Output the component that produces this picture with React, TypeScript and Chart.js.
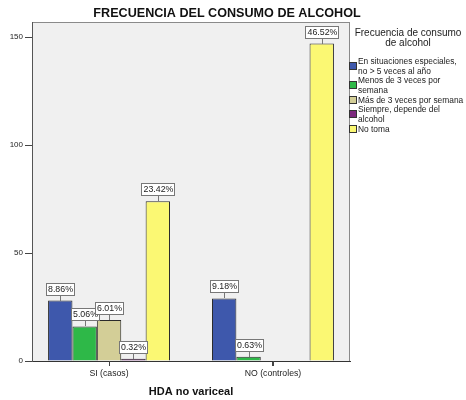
import React, { useEffect, useRef } from 'react';
import { Chart, registerables } from 'chart.js';

Chart.register(...registerables);

const chartTitle = 'FRECUENCIA DEL CONSUMO DE ALCOHOL';
const xAxisTitle = 'HDA no variceal';
const legendTitle = ['Frecuencia de consumo', 'de alcohol'];
const categories = ['SI (casos)', 'NO (controles)'];
const seriesNames = [
  ['En situaciones especiales,', 'no > 5 veces al año'],
  ['Menos de 3 veces por', 'semana'],
  ['Más de 3 veces por semana'],
  ['Siempre, depende del', 'alcohol'],
  ['No toma'],
];
const situacionesEspeciales = [28, 29];
const menosDe3Semana = [16, 2];
const masDe3Semana = [19, null];
const siempreDepende = [1, null];
const noToma = [74, 147];
const seriesValues = [situacionesEspeciales, menosDe3Semana, masDe3Semana, siempreDepende, noToma];
const seriesColors = ['#3E58AC', '#2EB848', '#D3CE97', '#7C287D', '#FBF873'];
const yTicks = [0, 50, 100, 150];

const FONT = "'Liberation Sans', Arial, sans-serif";

export default function App() {
  const ref = useRef<HTMLCanvasElement | null>(null);

  useEffect(() => {
    const canvas = ref.current;
    if (!canvas) return;
    const total = seriesValues.reduce(
      (s, arr) => s + arr.reduce((a: number, v) => a + (v ?? 0), 0),
      0
    );

    const framePlugin = {
      id: 'frame',
      beforeDraw(chart: any) {
        const { ctx, chartArea: a } = chart;
        ctx.save();
        ctx.fillStyle = '#F0F0F0';
        ctx.fillRect(a.left, a.top, a.right - a.left, a.bottom - a.top);
        ctx.strokeStyle = '#8a8a8a';
        ctx.lineWidth = 1;
        ctx.strokeRect(a.left + 0.5, a.top + 0.5, a.right - a.left - 1, a.bottom - a.top);
        ctx.restore();
      },
    };

    const labelsPlugin = {
      id: 'pctLabels',
      afterDatasetsDraw(chart: any) {
        const { ctx } = chart;
        ctx.save();
        ctx.font = `8.8px ${FONT}`;
        ctx.textAlign = 'center';
        ctx.textBaseline = 'middle';
        chart.data.datasets.forEach((ds: any, di: number) => {
          const meta = chart.getDatasetMeta(di);
          meta.data.forEach((el: any, i: number) => {
            const v = ds.data[i]?.y;
            if (v == null || v === 0) return;
            const txt = ((v / total) * 100).toFixed(2) + '%';
            const w = Math.round(ctx.measureText(txt).width) + 4;
            const h = 13;
            const cx = Math.round(el.x);
            const top = Math.round(el.y);
            const boxBottom = top - 5;
            ctx.strokeStyle = '#777';
            ctx.lineWidth = 1;
            ctx.beginPath();
            ctx.moveTo(cx + 0.5, top);
            ctx.lineTo(cx + 0.5, boxBottom);
            ctx.stroke();
            const bx = Math.round(cx - w / 2);
            ctx.fillStyle = '#ffffff';
            ctx.fillRect(bx, boxBottom - h, w, h);
            ctx.strokeRect(bx + 0.5, boxBottom - h + 0.5, w - 1, h - 1);
            ctx.fillStyle = '#222';
            ctx.fillText(txt, cx + 0.5, boxBottom - h / 2);
          });
        });
        ctx.restore();
      },
    };

    const textPlugin = {
      id: 'texts',
      afterDraw(chart: any) {
        const { ctx, chartArea: a } = chart;
        ctx.save();
        // category tick marks
        const xs = chart.scales.x;
        ctx.strokeStyle = '#444';
        ctx.lineWidth = 1;
        categories.forEach((_, i) => {
          const px = Math.round(xs.getPixelForValue(i)) + 0.5;
          ctx.beginPath();
          ctx.moveTo(px, a.bottom);
          ctx.lineTo(px, a.bottom + 5);
          ctx.stroke();
        });
        ctx.fillStyle = '#111';
        ctx.textBaseline = 'middle';
        ctx.textAlign = 'center';
        ctx.font = `bold 12.6px ${FONT}`;
        ctx.fillText(chartTitle, 227, 14);
        ctx.font = `10px ${FONT}`;
        ctx.fillStyle = '#222';
        legendTitle.forEach((t, i) => ctx.fillText(t, 408, 33 + i * 10.5));
        ctx.font = `8.4px ${FONT}`;
        ctx.textAlign = 'left';
        let y = 61.5;
        const lh = 9.7;
        chart.data.datasets.forEach((ds: any, di: number) => {
          const lines = seriesNames[di];
          const blockCenter = y + ((lines.length - 1) * lh) / 2;
          const sTop = Math.round(blockCenter - 4.5);
          ctx.fillStyle = ds.backgroundColor;
          ctx.fillRect(a.right - 1, sTop, 8, 8);
          ctx.strokeStyle = '#333';
          ctx.lineWidth = 1;
          ctx.strokeRect(a.right - 0.5, sTop + 0.5, 7, 7);
          ctx.fillStyle = '#222';
          lines.forEach((ln) => {
            ctx.fillText(ln, a.right + 8, y);
            y += lh;
          });
        });
        ctx.restore();
      },
    };

    const chart = new Chart(canvas, {
      type: 'bar',
      data: {
        datasets: seriesValues.map((vals, si) => ({
          label: seriesNames[si].join(' '),
          data: vals.map((v, i) => ({ x: i, y: v })),
          backgroundColor: seriesColors[si],
          borderColor: '#2a2a2a',
          borderWidth: 1,
          categoryPercentage: 0.744,
          barPercentage: 1,
        })),
      },
      options: {
        animation: false,
        responsive: false,
        maintainAspectRatio: false,
        devicePixelRatio: 1,
        layout: { padding: { top: 22, right: 116, left: 0, bottom: 0 } },
        plugins: {
          legend: { display: false },
          title: { display: false },
          tooltip: { enabled: false },
        },
        scales: {
          x: {
            type: 'linear',
            min: -0.47,
            max: 1.47,
            offset: false,
            afterBuildTicks: (scale: any) => {
              scale.ticks = categories.map((_, i) => ({ value: i }));
            },
            afterFit: (scale: any) => {
              scale.height = 39;
            },
            ticks: {
              callback: (v: any) => categories[v] ?? '',
              font: { family: FONT, size: 8.7 },
              color: '#222',
              padding: 2,
              maxRotation: 0,
              autoSkip: false,
            },
            grid: {
              offset: false,
              drawOnChartArea: false,
              drawTicks: true,
              tickLength: 5,
              tickColor: '#444',
            },
            border: { display: true, color: '#333', width: 1 },
            title: {
              display: true,
              text: xAxisTitle,
              font: { family: FONT, size: 11, weight: 'bold' },
              color: '#111',
              padding: { top: 0, bottom: 1 },
            },
          },
          y: {
            type: 'linear',
            min: 0,
            max: 157,
            afterBuildTicks: (scale: any) => {
              scale.ticks = yTicks.map((v) => ({ value: v }));
            },
            afterFit: (scale: any) => {
              scale.width = 32;
            },
            ticks: {
              font: { family: FONT, size: 8 },
              color: '#222',
              padding: 2,
            },
            grid: {
              drawOnChartArea: false,
              drawTicks: true,
              tickLength: 7,
              tickColor: '#444',
            },
            border: { display: true, color: '#555', width: 1 },
          },
        },
      },
      plugins: [framePlugin, labelsPlugin, textPlugin],
    } as any);

    return () => chart.destroy();
  }, []);

  return (
    <div style={{ position: 'fixed', left: 0, top: 0, width: 466, height: 400, background: '#fff' }}>
      <canvas ref={ref} width={466} height={400} style={{ width: 466, height: 400 }} />
    </div>
  );
}
